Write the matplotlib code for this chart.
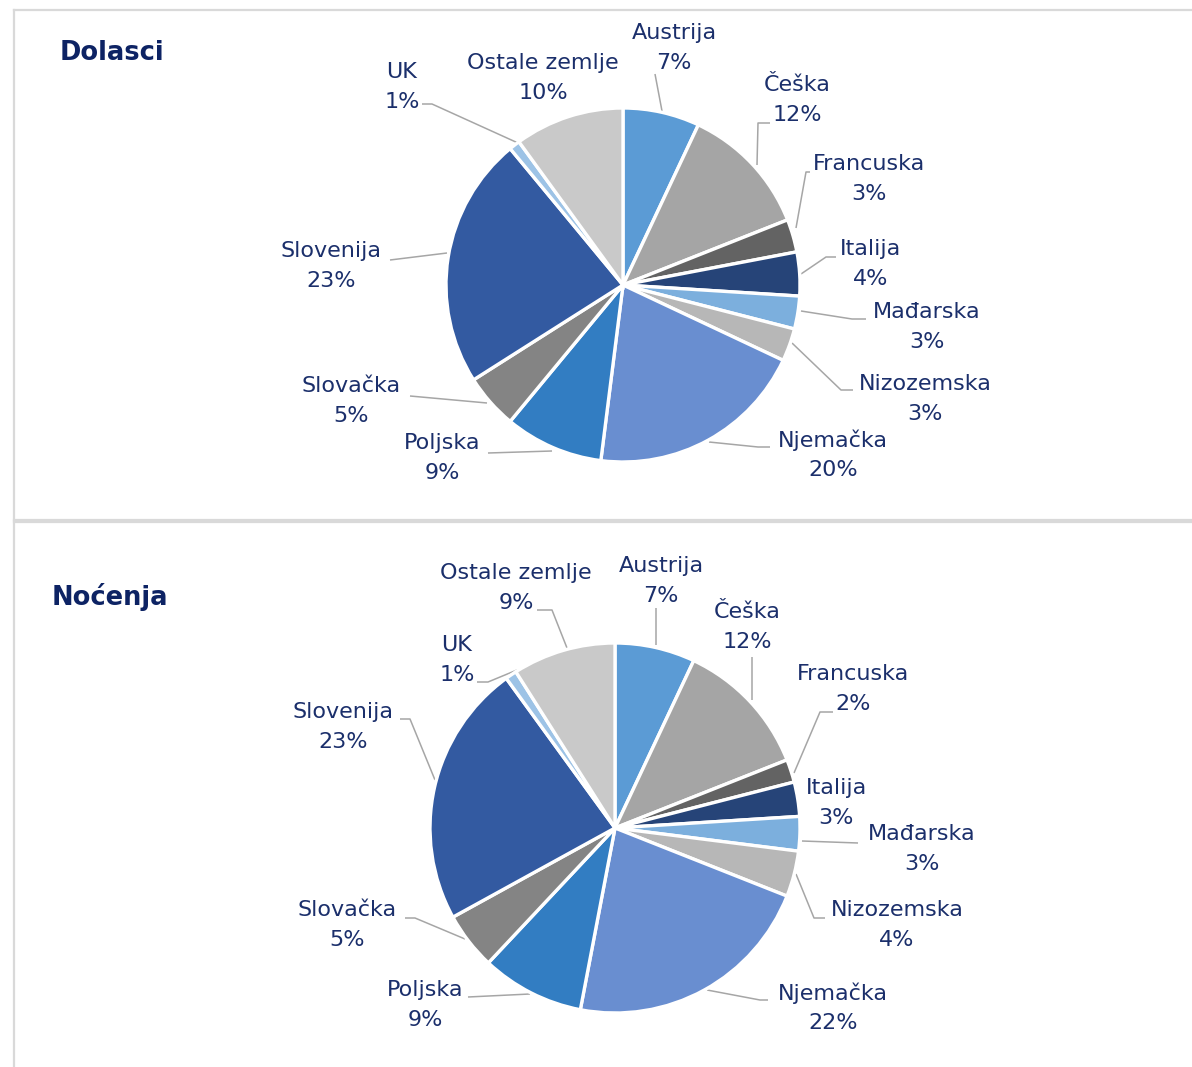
import matplotlib
matplotlib.use("Agg")
import matplotlib.pyplot as plt

# ---------------- data ----------------
countries = ["Austrija", "Češka", "Francuska", "Italija", "Mađarska", "Nizozemska",
             "Njemačka", "Poljska", "Slovačka", "Slovenija", "UK", "Ostale zemlje"]
dolasci = [7, 12, 3, 4, 3, 3, 20, 9, 5, 23, 1, 10]
nocenja = [7, 12, 2, 3, 3, 4, 22, 9, 5, 23, 1, 9]
titles = ["Dolasci", "Noćenja"]

colors = ["#5B9BD5", "#A5A5A5", "#636363", "#264478", "#7CAFDD", "#B7B7B7",
          "#698ED0", "#327DC2", "#848484", "#335AA1", "#9DC3E6", "#C9C9C9"]

TEXT = "#1B2F6B"
TITLE = "#0D2364"
LEAD = "#A6A6A6"
FRAME = "#D9D9D9"

# ---------------- layout (pixel coordinates) ----------------
W, H = 1192, 1067
centers = [(623, 285), (615, 828)]
radii = [177, 185]
title_pos = [(60, 53), (52, 597)]

# label block centre (name line y, pct line below)
label_pos = [
    [(674, 33), (797, 85), (869, 164), (871, 249), (927, 312), (925, 384),
     (833, 440), (442, 443), (351, 386), (331, 251), (402, 72), (543, 63)],
    [(661, 566), (747, 612), (853, 674), (836, 788), (922, 834), (897, 910),
     (833, 993), (425, 990), (347, 910), (343, 712), (457, 645), (516, 573)],
]
# leader lines: list of points from wedge towards label (None = no leader)
leaders = [
    [[(662, 111), (655, 74)],
     [(757, 165), (758, 123), (770, 123)],
     [(796, 228), (806, 172), (810, 172)],
     [(801, 274), (826, 257), (836, 257)],
     [(801, 311), (852, 319), (866, 319)],
     [(792, 343), (841, 390), (853, 390)],
     [(709, 442), (758, 447), (770, 447)],
     [(552, 451), (488, 453)],
     [(487, 403), (410, 396)],
     [(447, 253), (390, 260)],
     [(518, 143), (432, 104), (422, 104)],
     None],
    [[(656, 645), (656, 608)],
     [(752, 700), (752, 657)],
     [(794, 773), (820, 712), (833, 712)],
     None,
     [(802, 841), (858, 843)],
     [(796, 874), (814, 918), (825, 918)],
     [(707, 990), (760, 1000), (768, 1000)],
     [(530, 994), (468, 997)],
     [(465, 939), (415, 918), (405, 918)],
     [(435, 780), (410, 719), (400, 719)],
     [(517, 670), (488, 682), (477, 682)],
     [(567, 648), (552, 610), (537, 610)]],
]

fig = plt.figure(figsize=(W / 100, H / 100), dpi=100)
ax = fig.add_axes([0, 0, 1, 1])

for k, vals in enumerate([dolasci, nocenja]):
    ax.pie(vals, colors=colors, startangle=-90, counterclock=True,
           center=centers[k], radius=radii[k], frame=True,
           wedgeprops=dict(edgecolor="white", linewidth=2.4))
    ax.text(title_pos[k][0], title_pos[k][1], titles[k], fontsize=18.5,
            fontweight="bold", color=TITLE, ha="left", va="center")
    for i, name in enumerate(countries):
        x, y = label_pos[k][i]
        ax.text(x, y, name, fontsize=16, color=TEXT, ha="center", va="center")
        ax.text(x, y + 30, f"{vals[i]}%", fontsize=16, color=TEXT,
                ha="center", va="center")
        pts = leaders[k][i]
        if pts:
            ax.plot([p[0] for p in pts], [p[1] for p in pts], color=LEAD,
                    lw=1.1, solid_capstyle="butt", zorder=0)

# frames
ax.plot([14, 14], [10, 520], color=FRAME, lw=1.6)
ax.plot([14, W], [10, 10], color=FRAME, lw=1.6)
ax.plot([14, W], [520, 520], color=FRAME, lw=1.6)
ax.plot([14, W], [522, 522], color=FRAME, lw=1.6)
ax.plot([14, 14], [522, H], color=FRAME, lw=1.6)

ax.set_xlim(0, W)
ax.set_ylim(H, 0)
ax.set_aspect("auto")
ax.axis("off")

fig.savefig("out.png", dpi=100, facecolor="white")
